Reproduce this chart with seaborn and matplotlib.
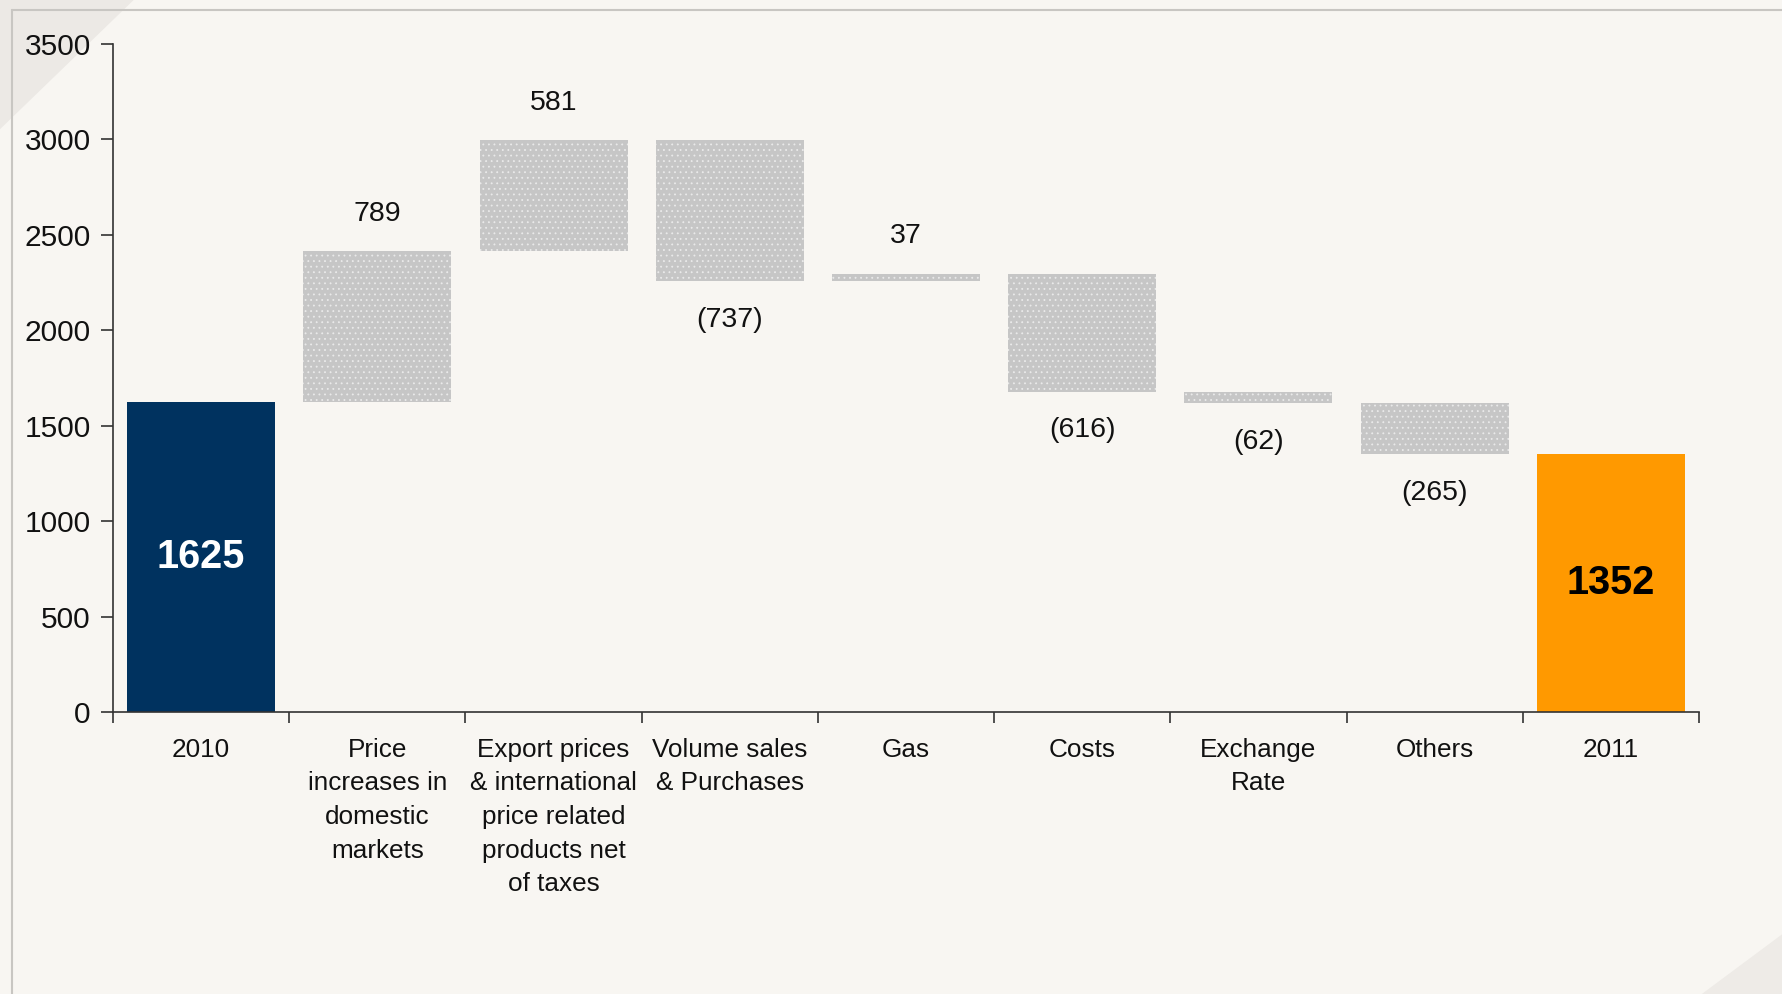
import matplotlib
matplotlib.use("Agg")
import matplotlib.pyplot as plt
import matplotlib.patches as mpatches
import seaborn as sns
import numpy as np
import pandas as pd

# ---- data ----
categories = ["2010", "Price\nincreases in\ndomestic\nmarkets",
              "Export prices\n& international\nprice related\nproducts net\nof taxes",
              "Volume sales\n& Purchases", "Gas", "Costs", "Exchange\nRate",
              "Others", "2011"]
changes = [1625, 789, 581, -737, 37, -616, -62, -265]
final_total = 1352
value_labels = ["1625", "789", "581", "(737)", "37", "(616)", "(62)", "(265)", "1352"]
y_ticks = [0, 500, 1000, 1500, 2000, 2500, 3000, 3500]

# ---- derived waterfall geometry ----
bottoms, heights = [], []
running = 0
for i, c in enumerate(changes):
    if i == 0:
        bottoms.append(0); heights.append(c)
        running = c
    else:
        lo = min(running, running + c)
        bottoms.append(lo); heights.append(abs(c))
        running += c
bottoms.append(0); heights.append(final_total)

df = pd.DataFrame({"cat": categories, "h": heights, "b": bottoms})

BG = "#F8F6F2"
sns.set_theme(style="white")
plt.rcParams["font.family"] = ["Liberation Sans", "DejaVu Sans"]
plt.rcParams["hatch.linewidth"] = 0.6

fig = plt.figure(figsize=(17.82, 9.94), dpi=100, facecolor=BG)

# decorative corner shading and frame (behind the axes)
fig.patches.append(mpatches.Polygon([[0, 1], [0.075, 1], [0, 0.87]], closed=True,
                                    transform=fig.transFigure, facecolor="#ECE9E5",
                                    edgecolor="none", zorder=-2))
fig.patches.append(mpatches.Polygon([[1, 0], [0.955, 0], [1, 0.06]], closed=True,
                                    transform=fig.transFigure, facecolor="#EEEBE7",
                                    edgecolor="none", zorder=-2))
fig.lines.append(plt.Line2D([12/1782, 12/1782], [0, 1 - 10/994], transform=fig.transFigure,
                            color="#C8C6C2", lw=1.5, zorder=-1))
fig.lines.append(plt.Line2D([12/1782, 1], [1 - 10/994, 1 - 10/994], transform=fig.transFigure,
                            color="#C8C6C2", lw=1.5, zorder=-1))

ax = fig.add_axes([113/1782, 1 - 712/994, (1699 - 113)/1782, (712 - 44)/994])
ax.patch.set_visible(False)

sns.barplot(data=df, x="cat", y="h", bottom=df["b"].values, width=0.84,
            color="#C6C6C6", ax=ax, order=categories)

for i, p in enumerate(ax.patches):
    if i == 0:
        p.set_facecolor("#00325F"); p.set_edgecolor("#00325F"); p.set_hatch(None)
        p.set_linewidth(0)
    elif i == len(categories) - 1:
        p.set_facecolor("#FF9900"); p.set_edgecolor("#FF9900"); p.set_hatch(None)
        p.set_linewidth(0)
    else:
        p.set_facecolor("#C6C6C6")
        p.set_edgecolor("#EAEAEA")
        p.set_linewidth(0)
        p.set_hatch("...")

ax.set_ylim(0, 3500)
ax.set_xlim(-0.5, len(categories) - 0.5)
ax.set_yticks(y_ticks)
ax.set_yticklabels([str(t) for t in y_ticks], fontsize=21.5, color="#111111")
ax.set_xticks(range(len(categories)))
ax.set_xticklabels(categories, fontsize=18.8, color="#111111", linespacing=1.51, va="top")
ax.set_xticks(np.arange(-0.5, len(categories), 1.0), minor=True)
ax.tick_params(axis="x", which="major", length=0, pad=18.5)
ax.tick_params(axis="x", which="minor", length=8, width=1.2, color="#333333", direction="out")
ax.tick_params(axis="y", which="major", length=9, width=1.2, color="#333333", direction="out", pad=7)
ax.tick_params(axis="x", which="both", bottom=True)
ax.tick_params(axis="y", which="both", left=True)
ax.set_xlabel(""); ax.set_ylabel("")
for s in ["top", "right"]:
    ax.spines[s].set_visible(False)
for s in ["left", "bottom"]:
    ax.spines[s].set_color("#333333")
    ax.spines[s].set_linewidth(1.2)

# value labels
for i, lab in enumerate(value_labels):
    b, h = bottoms[i], heights[i]
    if i == 0:
        ax.text(i, b + h / 2, lab, ha="center", va="center", fontsize=28.5,
                fontweight="bold", color="white")
    elif i == len(categories) - 1:
        ax.text(i, b + h / 2, lab, ha="center", va="center", fontsize=28.5,
                fontweight="bold", color="black")
    elif changes[i] >= 0:
        ax.annotate(lab, (i, b + h), xytext=(0, 27), textcoords="offset points",
                    ha="center", va="center", fontsize=20.5, color="#111111")
    else:
        ax.annotate(lab, (i, b), xytext=(0, -28), textcoords="offset points",
                    ha="center", va="center", fontsize=20.5, color="#111111")

fig.savefig("out.png", dpi=100, facecolor=BG)
